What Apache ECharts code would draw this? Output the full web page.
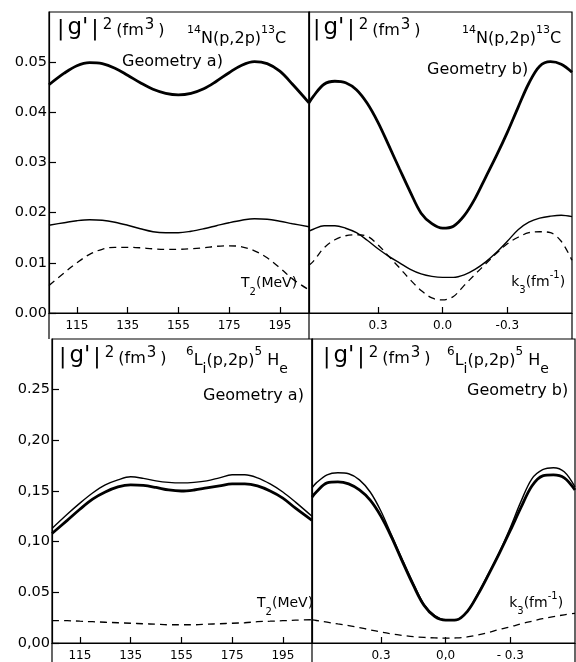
<!DOCTYPE html>
<html><head><meta charset="utf-8">
<script src="https://cdn.jsdelivr.net/npm/echarts@6/dist/echarts.min.js"></script>
<style>html,body{margin:0;padding:0;background:#fff}#c{width:576px;height:662px}</style>
</head><body><div id="c"></div><script>
// ---------- data ----------
const T_VALUES = [104, 110, 115, 120, 125, 130, 135, 140, 145, 150, 155, 160, 165, 170, 175, 180, 185, 190, 195, 200, 206.5];
const K_VALUES = [0.62, 0.6, 0.55, 0.5, 0.45, 0.4, 0.35, 0.3, 0.25, 0.2, 0.15, 0.1, 0.05, 0.0, -0.05, -0.1, -0.15, -0.2, -0.25, -0.3, -0.35, -0.4, -0.45, -0.5, -0.55, -0.6];

// 14N(p,2p)13C, geometry a)  (vs T2)
const N_A_THICK  = [0.0455,0.0478,0.0493,0.0499,0.0497,0.0488,0.0474,0.0459,0.0446,0.0438,0.0435,0.0438,0.0447,0.0462,0.0479,0.0494,0.0501,0.0497,0.0482,0.0456,0.0419];
const N_A_THIN   = [0.0175,0.0180,0.0184,0.0186,0.0185,0.0181,0.0175,0.0168,0.0162,0.0160,0.0160,0.0163,0.0168,0.0174,0.0180,0.0185,0.0188,0.0187,0.0183,0.0178,0.0172];
const N_A_DASHED = [0.0055,0.0080,0.0100,0.0117,0.0127,0.0131,0.0131,0.0130,0.0128,0.0127,0.0127,0.0128,0.0130,0.0133,0.0134,0.0132,0.0124,0.0110,0.0090,0.0068,0.0046];

// 14N(p,2p)13C, geometry b)  (vs k3)
const N_B_THICK  = [0.0419,0.0432,0.0456,0.0462,0.0459,0.0445,0.0418,0.0380,0.0334,0.0287,0.0241,0.0199,0.0178,0.0169,0.0173,0.0194,0.0228,0.0271,0.0314,0.0360,0.0410,0.0458,0.0492,0.0501,0.0496,0.0480];
const N_B_THIN   = [0.0163,0.0167,0.0174,0.0174,0.0169,0.0160,0.0145,0.0128,0.0113,0.0100,0.0087,0.0078,0.0073,0.0071,0.0071,0.0076,0.0087,0.0102,0.0121,0.0143,0.0166,0.0181,0.0189,0.0193,0.0195,0.0192];
const N_B_DASHED = [0.0095,0.0103,0.0130,0.0146,0.0154,0.0156,0.0153,0.0136,0.0113,0.0090,0.0066,0.0045,0.0030,0.0026,0.0033,0.0055,0.0077,0.0098,0.0119,0.0138,0.0151,0.0160,0.0162,0.0160,0.0143,0.0105];

// 6Li(p,2p)5He, geometry a)  (vs T2)
const L_A_THIN   = [0.113,0.127,0.138,0.148,0.156,0.161,0.164,0.1625,0.160,0.1585,0.158,0.1585,0.160,0.163,0.166,0.166,0.163,0.157,0.149,0.139,0.125];
const L_A_THICK  = [0.108,0.121,0.132,0.142,0.149,0.154,0.156,0.1555,0.1535,0.151,0.150,0.151,0.153,0.155,0.157,0.157,0.155,0.150,0.143,0.133,0.121];
const L_A_DASHED = [0.022,0.022,0.0215,0.021,0.0205,0.020,0.0195,0.019,0.0185,0.018,0.018,0.018,0.0185,0.019,0.0195,0.020,0.021,0.0215,0.022,0.0225,0.023];

// 6Li(p,2p)5He, geometry b)  (vs k3)
const L_B_THIN   = [0.153,0.158,0.166,0.168,0.167,0.161,0.149,0.130,0.106,0.082,0.059,0.038,0.027,0.0227,0.0228,0.031,0.049,0.069,0.090,0.114,0.140,0.162,0.171,0.173,0.169,0.154];
const L_B_THICK  = [0.144,0.149,0.158,0.159,0.157,0.151,0.141,0.125,0.104,0.080,0.057,0.037,0.026,0.0225,0.0228,0.031,0.048,0.068,0.089,0.111,0.134,0.155,0.165,0.166,0.163,0.151];
const L_B_DASHED = [0.0228,0.0222,0.0205,0.0188,0.0172,0.0152,0.0130,0.0108,0.0090,0.0075,0.0062,0.0055,0.0050,0.0048,0.0050,0.0060,0.0080,0.0105,0.0135,0.0160,0.0190,0.0215,0.0240,0.0260,0.0278,0.0293];

// ticks / labels
const T_TICKS = [115, 135, 155, 175, 195];
const T_LABELS = ['115', '135', '155', '175', '195'];
const K_TICKS = [0.3, 0.0, -0.3];
const K_LABELS_TOP = ['0.3', '0.0', '-0.3'];
const K_LABELS_BOT = ['0.3', '0,0', '- 0.3'];
const Y_TOP_TICKS = [0, 0.01, 0.02, 0.03, 0.04, 0.05];
const Y_TOP_LABELS = ['0.00', '0.01', '0.02', '0.03', '0.04', '0.05'];
const Y_BOT_TICKS = [0, 0.05, 0.10, 0.15, 0.20, 0.25];
const Y_BOT_LABELS = ['0,00', '0.05', '0,10', '0,15', '0,20', '0.25'];

// ---------- chart ----------
const FONT = 'DejaVu Sans';
const chart = echarts.init(document.getElementById('c'), null, {renderer: 'canvas'});

const grids = [
  {left: 49, top: 12, width: 260, height: 301},
  {left: 309, top: 12, width: 263, height: 301},
  {left: 52, top: 339, width: 260, height: 304},
  {left: 312, top: 339, width: 263, height: 304}
].map(g => Object.assign({show: true, borderColor: '#000', borderWidth: 1.2, backgroundColor: 'transparent'}, g));

function lookup(ticks, labels) {
  return v => { let i = ticks.findIndex(t => Math.abs(t - v) < 1e-9); return i >= 0 ? labels[i] : ''; };
}
const AXLINE = {show: true, onZero: false, lineStyle: {color: '#000', width: 1.2}};
function xAxisT(gi) {
  return {type: 'value', gridIndex: gi, min: 104, max: 206.5,
    axisLine: AXLINE, splitLine: {show: false},
    axisTick: {show: true, inside: true, length: 6, customValues: T_TICKS, lineStyle: {color: '#000', width: 1.2}},
    axisLabel: {show: true, customValues: T_TICKS, formatter: lookup(T_TICKS, T_LABELS), color: '#000', fontFamily: FONT, fontSize: 12, margin: 7}
  };
}
function xAxisK(gi, labels) {
  return {type: 'value', gridIndex: gi, min: -0.6, max: 0.62, inverse: true,
    axisLine: AXLINE, splitLine: {show: false},
    axisTick: {show: true, inside: true, length: 6, customValues: K_TICKS, lineStyle: {color: '#000', width: 1.2}},
    axisLabel: {show: true, customValues: K_TICKS, formatter: lookup(K_TICKS, labels), color: '#000', fontFamily: FONT, fontSize: 12, margin: 7}
  };
}
function yAxis(gi, max, ticks, labels, showLabels) {
  return {type: 'value', gridIndex: gi, min: 0, max: max,
    axisLine: AXLINE, splitLine: {show: false},
    axisTick: {show: showLabels, inside: true, length: 7, customValues: ticks, lineStyle: {color: '#000', width: 1.2}},
    axisLabel: {show: showLabels, customValues: ticks, formatter: lookup(ticks, labels), color: '#000', fontFamily: FONT, fontSize: 14.5, margin: 2}
  };
}

function pairs(xs, ys) { return xs.map((x, i) => [x, ys[i]]); }
function line(idx, xs, ys, kind) {
  const ls = kind === 'thick' ? {color: '#000', width: 2.8}
           : kind === 'thin' ? {color: '#000', width: 1.4}
           : {color: '#000', width: 1.3, type: [7, 5]};
  return {type: 'line', xAxisIndex: idx, yAxisIndex: idx, data: pairs(xs, ys), smooth: 0.35,
    showSymbol: false, symbol: 'none', lineStyle: ls, silent: true, animation: false, clip: true};
}

function titleBig(x, y) {
  return {type: 'text', left: x, top: y, silent: true, style: {
    text: '{b|\u007C}{g|g\'}{b|\u007C}{s|2}{f|(fm}{s|3}{f|)}',
    rich: {
      b: {fontFamily: FONT, fontSize: 22, lineHeight: 24, verticalAlign: 'bottom', fill: '#000', padding: [0, 3, 0, 3]},
      g: {fontFamily: FONT, fontSize: 23, lineHeight: 24, verticalAlign: 'bottom', fill: '#000'},
      s: {fontFamily: FONT, fontSize: 15, verticalAlign: 'top', fill: '#000', padding: [2, 1, 0, 1]},
      f: {fontFamily: FONT, fontSize: 16, verticalAlign: 'bottom', fill: '#000', padding: [0, 0, 1, 3]}
    }}};
}
function reacN(x, y) {
  return {type: 'text', left: x, top: y, silent: true, style: {
    text: '{s|14}{n|N(p,2p)}{s|13}{n|C}',
    rich: {
      n: {fontFamily: FONT, fontSize: 16, lineHeight: 22, verticalAlign: 'bottom', fill: '#000'},
      s: {fontFamily: FONT, fontSize: 11, verticalAlign: 'top', fill: '#000'}
    }}};
}
function reacL(x, y) {
  return {type: 'text', left: x, top: y, silent: true, style: {
    text: '{s|6}{n|L}{b|i}{n|(p,2p)}{s|5}{n| H}{b|e}',
    rich: {
      n: {fontFamily: FONT, fontSize: 16, lineHeight: 30, verticalAlign: 'middle', fill: '#000'},
      s: {fontFamily: FONT, fontSize: 12, verticalAlign: 'top', fill: '#000'},
      b: {fontFamily: FONT, fontSize: 14, verticalAlign: 'bottom', fill: '#000'}
    }}};
}
function plain(x, y, txt, size) {
  return {type: 'text', left: x, top: y, silent: true, style: {text: txt, font: size + 'px ' + FONT, fill: '#000'}};
}
function tLabel(x, y) {
  return {type: 'text', left: x, top: y, silent: true, style: {
    text: '{n|T}{b|2}{n|(MeV)}',
    rich: {
      n: {fontFamily: FONT, fontSize: 14, lineHeight: 21, verticalAlign: 'top', fill: '#000'},
      b: {fontFamily: FONT, fontSize: 10, verticalAlign: 'bottom', fill: '#000'}
    }}};
}
function kLabel(x, y) {
  return {type: 'text', left: x, top: y, silent: true, style: {
    text: '{s|\u00A0}{n|k}{b|3}{n|(fm}{s|-1}{n|)}',
    rich: {
      n: {fontFamily: FONT, fontSize: 14, lineHeight: 25, verticalAlign: 'middle', fill: '#000'},
      b: {fontFamily: FONT, fontSize: 10, verticalAlign: 'bottom', fill: '#000'},
      s: {fontFamily: FONT, fontSize: 10, verticalAlign: 'top', fill: '#000'}
    }}};
}
function vline(x, y1, y2) {
  return {type: 'line', silent: true, shape: {x1: x, y1: y1, x2: x, y2: y2}, style: {stroke: '#000', lineWidth: 1.2}};
}

const option = {
  backgroundColor: '#fff',
  animation: false,
  grid: grids,
  xAxis: [xAxisT(0), xAxisK(1, K_LABELS_TOP), xAxisT(2), xAxisK(3, K_LABELS_BOT)],
  yAxis: [
    yAxis(0, 0.06, Y_TOP_TICKS, Y_TOP_LABELS, true),
    yAxis(1, 0.06, Y_TOP_TICKS, Y_TOP_LABELS, false),
    yAxis(2, 0.30, Y_BOT_TICKS, Y_BOT_LABELS, true),
    yAxis(3, 0.30, Y_BOT_TICKS, Y_BOT_LABELS, false)
  ],
  series: [
    line(0, T_VALUES, N_A_THICK, 'thick'),
    line(0, T_VALUES, N_A_THIN, 'thin'),
    line(0, T_VALUES, N_A_DASHED, 'dashed'),
    line(1, K_VALUES, N_B_THICK, 'thick'),
    line(1, K_VALUES, N_B_THIN, 'thin'),
    line(1, K_VALUES, N_B_DASHED, 'dashed'),
    line(2, T_VALUES, L_A_THIN, 'thin'),
    line(2, T_VALUES, L_A_THICK, 'thick'),
    line(2, T_VALUES, L_A_DASHED, 'dashed'),
    line(3, K_VALUES, L_B_THIN, 'thin'),
    line(3, K_VALUES, L_B_THICK, 'thick'),
    line(3, K_VALUES, L_B_DASHED, 'dashed')
  ],
  graphic: [
    vline(49, 313, 339), vline(309, 313, 339), vline(572, 313, 339),
    vline(52, 643, 662), vline(312, 643, 662), vline(575, 643, 662),
    titleBig(54, 17), reacN(187, 25), plain(122, 54, 'Geometry a)', 16),
    titleBig(310, 17), reacN(462, 25), plain(427, 62, 'Geometry b)', 16),
    titleBig(56, 345), reacL(186, 346), plain(203, 388, 'Geometry a)', 16),
    titleBig(320, 345), reacL(447, 346), plain(467, 383, 'Geometry b)', 16),
    tLabel(241, 276), kLabel(508, 270),
    tLabel(257, 596), kLabel(506, 591)
  ]
};
chart.setOption(option);
</script></body></html>
